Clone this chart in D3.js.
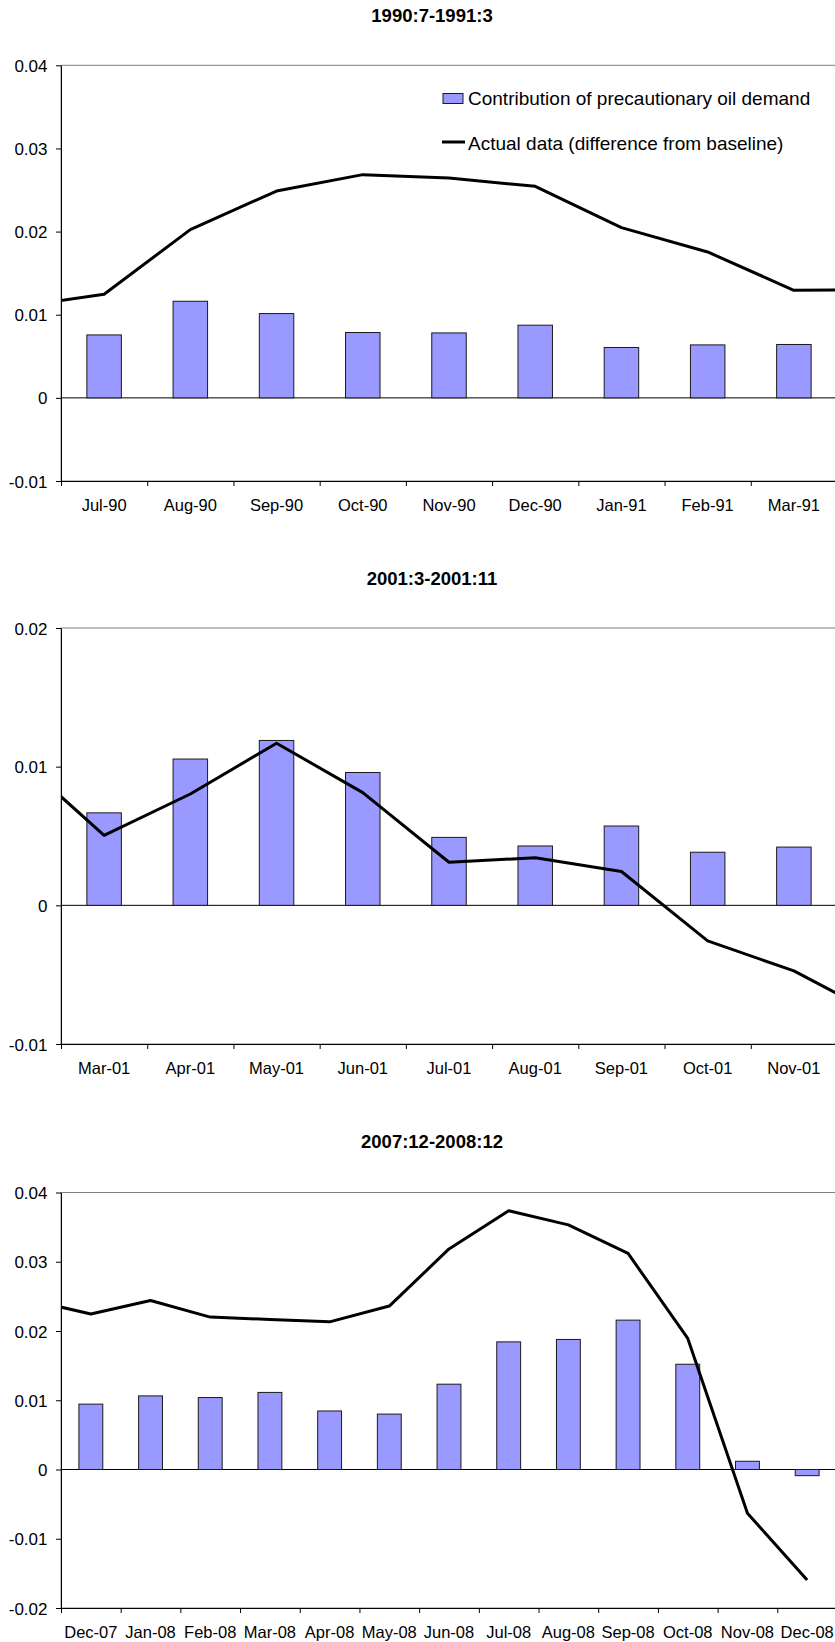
<!DOCTYPE html>
<html>
<head>
<meta charset="utf-8">
<script src="https://cdn.jsdelivr.net/npm/d3@7"></script>
<style>
  html, body { margin: 0; padding: 0; background: #ffffff; }
  svg { display: block; font-family: "Liberation Sans", Arial, sans-serif; }
</style>
</head>
<body>
<svg id="chart" width="835" height="1642"></svg>
<script>
// ---- Data -------------------------------------------------------------
const seriesNames = ["Contribution of precautionary oil demand", "Actual data (difference from baseline)"];

// Episode 1: 1990:7-1991:3
const title1 = "1990:7-1991:3";
const cats1 = ["Jul-90", "Aug-90", "Sep-90", "Oct-90", "Nov-90", "Dec-90", "Jan-91", "Feb-91", "Mar-91"];
const bars1 = [0.00757, 0.01162, 0.01014, 0.00786, 0.00781, 0.00874, 0.00606, 0.00637, 0.00642];
const line1 = [0.01246, 0.02024, 0.02488, 0.02685, 0.02644, 0.02544, 0.02048, 0.01755, 0.01294];
const line1Before = 0.01096;   // month preceding the window
const line1After = 0.01302;    // month following the window
const yTicks1 = [-0.01, 0, 0.01, 0.02, 0.03, 0.04];

// Episode 2: 2001:3-2001:11
const title2 = "2001:3-2001:11";
const cats2 = ["Mar-01", "Apr-01", "May-01", "Jun-01", "Jul-01", "Aug-01", "Sep-01", "Oct-01", "Nov-01"];
const bars2 = [0.00667, 0.01055, 0.01189, 0.00958, 0.0049, 0.00428, 0.00572, 0.00383, 0.0042];
const line2 = [0.00505, 0.00803, 0.01169, 0.00813, 0.00311, 0.00343, 0.00244, -0.00256, -0.00473];
const line2Before = 0.01063;
const line2After = -0.0080;
const yTicks2 = [-0.01, 0, 0.01, 0.02];

// Episode 3: 2007:12-2008:12
const title3 = "2007:12-2008:12";
const cats3 = ["Dec-07", "Jan-08", "Feb-08", "Mar-08", "Apr-08", "May-08", "Jun-08", "Jul-08", "Aug-08", "Sep-08", "Oct-08", "Nov-08", "Dec-08"];
const bars3 = [0.00944, 0.01063, 0.01039, 0.01113, 0.00845, 0.008, 0.01232, 0.01843, 0.01878, 0.02157, 0.0152, 0.00119, -0.00089];
const line3 = [0.02246, 0.0244, 0.02201, 0.02166, 0.02132, 0.0236, 0.03185, 0.03737, 0.03533, 0.0312, 0.01893, -0.00631, -0.01595];
const line3Before = 0.02444;
const line3After = null;
const yTicks3 = [-0.02, -0.01, 0, 0.01, 0.02, 0.03, 0.04];

// ---- Layout -------------------------------------------------------------
const svg = d3.select("#chart");
const plotLeft = 61, plotRight = 837;
const barColor = "#9999ff";

const panels = [
  { id: 1, title: title1, titleY: 15, top: 65.3, bottom: 481, cats: cats1, bars: bars1, line: line1,
    before: line1Before, after: line1After, ticks: yTicks1, legend: true },
  { id: 2, title: title2, titleY: 578.5, top: 628, bottom: 1044, cats: cats2, bars: bars2, line: line2,
    before: line2Before, after: line2After, ticks: yTicks2, legend: false },
  { id: 3, title: title3, titleY: 1141, top: 1192.5, bottom: 1608, cats: cats3, bars: bars3, line: line3,
    before: line3Before, after: line3After, ticks: yTicks3, legend: false }
];

const defs = svg.append("defs");

panels.forEach(p => {
  const g = svg.append("g").attr("class", "panel-" + p.id);
  const n = p.cats.length;

  const x = d3.scaleBand().domain(p.cats).range([plotLeft, plotRight])
    .paddingInner(0.6).paddingOuter(0.3);
  const y = d3.scaleLinear().domain(d3.extent(p.ticks)).range([p.bottom, p.top]);
  // category index -> centre of that category slot (allows months just outside the window)
  const xi = d3.scaleLinear().domain([-0.5, n - 0.5]).range([plotLeft, plotRight]);

  // title
  g.append("text")
    .attr("x", 432).attr("y", p.titleY)
    .attr("text-anchor", "middle").attr("dominant-baseline", "central")
    .attr("font-size", 18.5).attr("font-weight", "bold").attr("fill", "#000")
    .text(p.title);

  // plot-area frame
  g.append("rect")
    .attr("x", plotLeft).attr("y", p.top)
    .attr("width", plotRight - plotLeft).attr("height", p.bottom - p.top)
    .attr("fill", "none").attr("stroke", "#808080").attr("stroke-width", 1);

  // zero line
  g.append("line")
    .attr("x1", plotLeft).attr("x2", plotRight)
    .attr("y1", y(0)).attr("y2", y(0))
    .attr("stroke", "#000").attr("stroke-width", 1);

  // bars
  g.append("g").selectAll("rect")
    .data(p.bars.map((v, i) => ({ cat: p.cats[i], v })))
    .join("rect")
    .attr("x", d => x(d.cat))
    .attr("width", x.bandwidth())
    .attr("y", d => Math.min(y(d.v), y(0)))
    .attr("height", d => Math.abs(y(d.v) - y(0)))
    .attr("fill", barColor)
    .attr("stroke", "#1a1a1a").attr("stroke-width", 1);

  // line (continues into adjacent months, clipped to the plot area)
  const clipId = "clip-" + p.id;
  defs.append("clipPath").attr("id", clipId)
    .append("rect")
    .attr("x", plotLeft).attr("y", p.top)
    .attr("width", plotRight - plotLeft).attr("height", p.bottom - p.top);

  const pts = [];
  if (p.before !== null) pts.push({ i: -1, v: p.before });
  p.line.forEach((v, i) => pts.push({ i, v }));
  if (p.after !== null) pts.push({ i: n, v: p.after });

  g.append("path")
    .datum(pts)
    .attr("clip-path", `url(#${clipId})`)
    .attr("fill", "none").attr("stroke", "#000").attr("stroke-width", 3)
    .attr("stroke-linejoin", "round")
    .attr("d", d3.line().x(d => xi(d.i)).y(d => y(d.v)));

  // y axis
  const yAxis = g.append("g")
    .attr("transform", `translate(${plotLeft},0)`)
    .call(d3.axisLeft(y).tickValues(p.ticks).tickSize(5).tickSizeOuter(0).tickPadding(8.5)
      .tickFormat(d => d === 0 ? "0" : String(d)));
  yAxis.select(".domain").attr("stroke", "#000");
  yAxis.selectAll(".tick line").attr("stroke", "#000");
  yAxis.selectAll(".tick text")
    .attr("font-size", 17).attr("font-family", "'Liberation Sans', Arial, sans-serif")
    .attr("fill", "#000").attr("dy", "0.36em");

  // x axis: tick marks at category boundaries, labels centred in each category
  const xb = d3.scaleLinear().domain([0, n]).range([plotLeft, plotRight]);
  const xAxis = g.append("g")
    .attr("transform", `translate(0,${p.bottom})`)
    .call(d3.axisBottom(xb).tickValues(d3.range(0, n + 1)).tickSize(5).tickSizeOuter(0).tickFormat(""));
  xAxis.select(".domain").attr("stroke", "#000");
  xAxis.selectAll(".tick line").attr("stroke", "#000");

  g.append("g").selectAll("text")
    .data(p.cats)
    .join("text")
    .attr("x", d => x(d) + x.bandwidth() / 2)
    .attr("y", p.bottom + 24)
    .attr("text-anchor", "middle").attr("dominant-baseline", "central")
    .attr("font-size", 16.5).attr("fill", "#000")
    .text(d => d);

  // legend
  if (p.legend) {
    const lg = g.append("g");
    lg.append("rect")
      .attr("x", 443).attr("y", 93.5).attr("width", 20).attr("height", 10)
      .attr("fill", barColor).attr("stroke", "#1a1a1a").attr("stroke-width", 1);
    lg.append("text")
      .attr("x", 468).attr("y", 98.5).attr("dominant-baseline", "central")
      .attr("font-size", 19).attr("fill", "#000").text(seriesNames[0]);
    lg.append("line")
      .attr("x1", 442).attr("x2", 465).attr("y1", 142).attr("y2", 142)
      .attr("stroke", "#000").attr("stroke-width", 3);
    lg.append("text")
      .attr("x", 468).attr("y", 143).attr("dominant-baseline", "central")
      .attr("font-size", 19).attr("fill", "#000").text(seriesNames[1]);
  }
});
</script>
</body>
</html>
